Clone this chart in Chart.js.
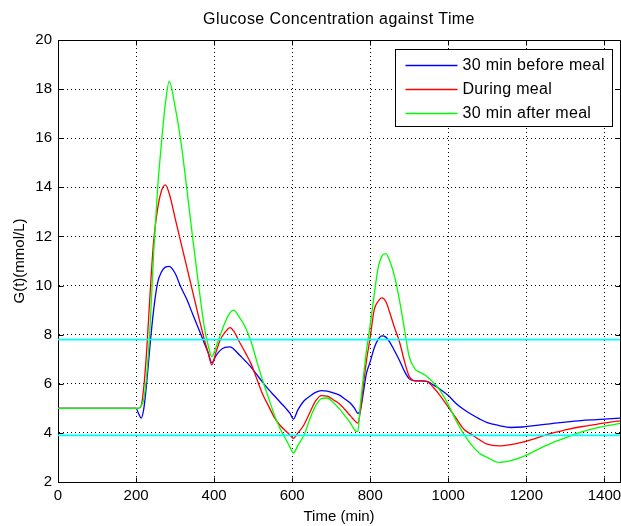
<!DOCTYPE html>
<html>
<head>
<meta charset="utf-8">
<script src="https://cdn.jsdelivr.net/npm/chart.js@4"></script>
<style>
  html, body { margin: 0; padding: 0; background: #fff; }
  canvas { display: block; }
</style>
</head>
<body>
<canvas id="chart" width="621" height="526"></canvas>
<script>
// time axis (min) shared by all three simulated curves
const times = [0, 200, 206, 213, 220, 227, 236, 245, 255, 265,
  275, 285, 300, 315, 330, 345, 360, 375, 385, 394,
  405, 415, 428, 441, 450, 465, 480, 495, 510, 525,
  540, 555, 570, 585, 595, 603, 615, 630, 646, 660,
  675, 690, 705, 720, 735, 750, 760, 768, 775, 782,
  790, 800, 810, 820, 830, 840, 850, 862, 875, 888,
  900, 915, 930, 945, 962, 980, 1000, 1020, 1040, 1060,
  1080, 1100, 1130, 1160, 1190, 1220, 1260, 1300, 1340, 1380,
  1420, 1440];

const beforeMeal = [5.0, 5.0, 4.8, 4.6, 5.0, 6.0, 7.6, 9.0, 10.1, 10.55,
  10.75, 10.78, 10.5, 9.93, 9.44, 8.84, 8.25, 7.65, 7.25, 6.86,
  7.15, 7.35, 7.48, 7.5, 7.42, 7.17, 6.93, 6.67, 6.36, 6.05,
  5.76, 5.5, 5.24, 4.98, 4.78, 4.56, 4.95, 5.3, 5.5, 5.65,
  5.72, 5.7, 5.63, 5.55, 5.38, 5.2, 5.0, 4.8, 4.95, 5.6,
  6.4, 6.9, 7.45, 7.8, 7.95, 7.9, 7.7, 7.35, 6.95, 6.5,
  6.2, 6.12, 6.12, 6.1, 5.95, 5.77, 5.52, 5.2, 4.95, 4.75,
  4.57, 4.42, 4.3, 4.22, 4.24, 4.3, 4.37, 4.44, 4.5, 4.54,
  4.58, 4.6];

const duringMeal = [5.0, 5.0, 5.0, 5.1, 5.9, 7.3, 9.7, 11.8, 13.1, 13.85,
  14.1, 13.75, 12.75, 11.75, 10.75, 9.75, 8.75, 7.8, 7.25, 6.77,
  7.3, 7.75, 8.1, 8.29, 8.15, 7.7, 7.27, 6.8, 6.17, 5.55,
  5.08, 4.61, 4.29, 4.06, 3.9, 3.78, 4.0, 4.32, 4.85, 5.3,
  5.52, 5.5, 5.35, 5.2, 4.95, 4.68, 4.5, 4.4, 4.9, 5.9,
  6.9, 7.9, 9.0, 9.35, 9.5, 9.35, 8.9, 8.3, 7.7, 6.9,
  6.3, 6.12, 6.12, 6.1, 5.85, 5.5, 5.05, 4.6, 4.15, 3.93,
  3.72, 3.54, 3.47, 3.52, 3.62, 3.76, 3.97, 4.12, 4.25, 4.35,
  4.45, 4.49];

const afterMeal = [5.0, 5.0, 5.0, 5.1, 5.4, 6.3, 8.35, 11.3, 13.9, 15.8,
  17.4, 18.31, 17.29, 15.85, 13.95, 11.95, 10.05, 8.3, 7.55, 7.1,
  7.5, 7.95, 8.5, 8.9, 9.0, 8.7, 8.3, 7.7, 6.88, 6.1,
  5.4, 4.7, 4.15, 3.7, 3.4, 3.18, 3.5, 3.9, 4.6, 5.1,
  5.4, 5.42, 5.25, 5.0, 4.7, 4.38, 4.12, 4.05, 5.2, 6.2,
  7.3, 8.4, 9.6, 10.7, 11.2, 11.3, 11.0, 10.4, 9.4, 8.2,
  7.1, 6.6, 6.45, 6.3, 6.05, 5.7, 5.15, 4.5, 3.95, 3.5,
  3.17, 3.0, 2.8, 2.87, 3.02, 3.25, 3.55, 3.8, 4.03, 4.2,
  4.33, 4.39];

// normal glucose band limits (mmol/L)
const limits = [7.8, 3.9];
const timeRange = [0, 1440];

const xTicks = [0, 200, 400, 600, 800, 1000, 1200, 1400];
const yTicks = [2, 4, 6, 8, 10, 12, 14, 16, 18, 20];

const seriesNames = ['30 min before meal', 'During meal', '30 min after meal'];
const seriesColors = ['#0000ff', '#ff0000', '#00ff00'];

const FONT = '"Liberation Sans", Arial, sans-serif';

function toPoints(values) {
  return times.map((t, i) => ({ x: t, y: values[i] }));
}

const curves = [beforeMeal, duringMeal, afterMeal].map((vals, i) => ({
  label: seriesNames[i],
  data: toPoints(vals),
  borderColor: seriesColors[i],
  borderWidth: 1.3,
  pointRadius: 0,
  cubicInterpolationMode: 'monotone',
  order: 3 - i
}));

const limitLines = limits.map(v => ({
  label: 'limit ' + v,
  data: timeRange.map(t => ({ x: t, y: v })),
  borderColor: '#00ffff',
  borderWidth: 1.6,
  pointRadius: 0,
  order: 0
}));

// MATLAB style box, inward ticks, title and legend
const matlabFrame = {
  id: 'matlabFrame',
  beforeDatasetsDraw(chart) {
    const { ctx, chartArea: a, scales } = chart;
    const L = Math.round(a.left) + 0.5, R = Math.round(a.right) + 0.5;
    const T = Math.round(a.top) + 0.5, B = Math.round(a.bottom) + 0.5;
    ctx.save();
    ctx.strokeStyle = '#000';
    ctx.lineWidth = 1;
    ctx.setLineDash([]);
    ctx.beginPath();
    ctx.rect(L, T, R - L, B - T);
    xTicks.forEach(v => {
      const px = Math.round(scales.x.getPixelForValue(v)) + 0.5;
      ctx.moveTo(px, B); ctx.lineTo(px, B - 5);
      ctx.moveTo(px, T); ctx.lineTo(px, T + 5);
    });
    yTicks.forEach(v => {
      const py = Math.round(scales.y.getPixelForValue(v)) + 0.5;
      ctx.moveTo(L, py); ctx.lineTo(L + 5, py);
      ctx.moveTo(R, py); ctx.lineTo(R - 5, py);
    });
    ctx.stroke();
    ctx.restore();
  },
  afterDraw(chart) {
    const { ctx, chartArea: a } = chart;
    ctx.save();
    ctx.fillStyle = '#000';
    ctx.letterSpacing = '0.4px';
    ctx.font = '16px ' + FONT;
    ctx.textAlign = 'center';
    ctx.textBaseline = 'middle';
    ctx.fillText('Glucose Concentration against Time', (a.left + a.right) / 2, 20);

    // legend box
    ctx.font = '16px ' + FONT;
    ctx.letterSpacing = '0.3px';
    const widths = seriesNames.map(s => ctx.measureText(s).width);
    const boxW = Math.round(67 + Math.max(...widths) + 8);
    const boxH = 77;
    const bx = Math.round(a.right - 8 - boxW) + 0.5;
    const by = Math.round(a.top + 9) + 0.5;
    ctx.fillStyle = '#fff';
    ctx.fillRect(bx, by, boxW, boxH);
    ctx.strokeStyle = '#000';
    ctx.lineWidth = 1;
    ctx.strokeRect(bx, by, boxW, boxH);
    ctx.textAlign = 'left';
    curves.forEach((c, i) => {
      const y = by + 15 + i * 24;
      ctx.strokeStyle = c.borderColor;
      ctx.lineWidth = 1.3;
      ctx.beginPath();
      ctx.moveTo(bx + 10, Math.round(y) + 0.5);
      ctx.lineTo(bx + 62, Math.round(y) + 0.5);
      ctx.stroke();
      ctx.fillStyle = '#000';
      ctx.fillText(c.label, bx + 67, y + 1);
    });
    ctx.restore();
  }
};

new Chart(document.getElementById('chart'), {
  type: 'line',
  data: { datasets: curves.concat(limitLines) },
  plugins: [matlabFrame],
  options: {
    responsive: false,
    devicePixelRatio: 1,
    animation: false,
    events: [],
    layout: { padding: { top: 40, right: 1, left: 0, bottom: 0 } },
    plugins: {
      legend: { display: false },
      title: { display: false },
      tooltip: { enabled: false }
    },
    scales: {
      x: {
        type: 'linear',
        min: timeRange[0],
        max: timeRange[1],
        afterBuildTicks: s => { s.ticks = xTicks.map(v => ({ value: v })); },
        afterFit: s => { s.height = 44; s.paddingLeft = 0; s.paddingRight = 0; },
        ticks: {
          color: '#000',
          font: { family: FONT, size: 15 },
          padding: 5,
          maxRotation: 0,
          callback: v => String(v)
        },
        grid: { color: '#000', lineWidth: 1, drawTicks: false },
        border: { color: '#000', width: 1, dash: [1, 3] },
        title: {
          display: true,
          text: 'Time (min)',
          color: '#000',
          font: { family: FONT, size: 15 },
          padding: { top: 0, bottom: 0 }
        }
      },
      y: {
        type: 'linear',
        min: 2,
        max: 20,
        afterBuildTicks: s => { s.ticks = yTicks.map(v => ({ value: v })); },
        afterFit: s => { s.width = 58; s.paddingTop = 0; s.paddingBottom = 0; },
        ticks: {
          color: '#000',
          font: { family: FONT, size: 15 },
          padding: 6,
          callback: v => String(v)
        },
        grid: { color: '#000', lineWidth: 1, drawTicks: false },
        border: { color: '#000', width: 1, dash: [1, 3] },
        title: {
          display: true,
          text: 'G(t)(mmol/L)',
          color: '#000',
          font: { family: FONT, size: 15 },
          padding: { top: 11, bottom: 0 }
        }
      }
    }
  }
});
</script>
</body>
</html>
